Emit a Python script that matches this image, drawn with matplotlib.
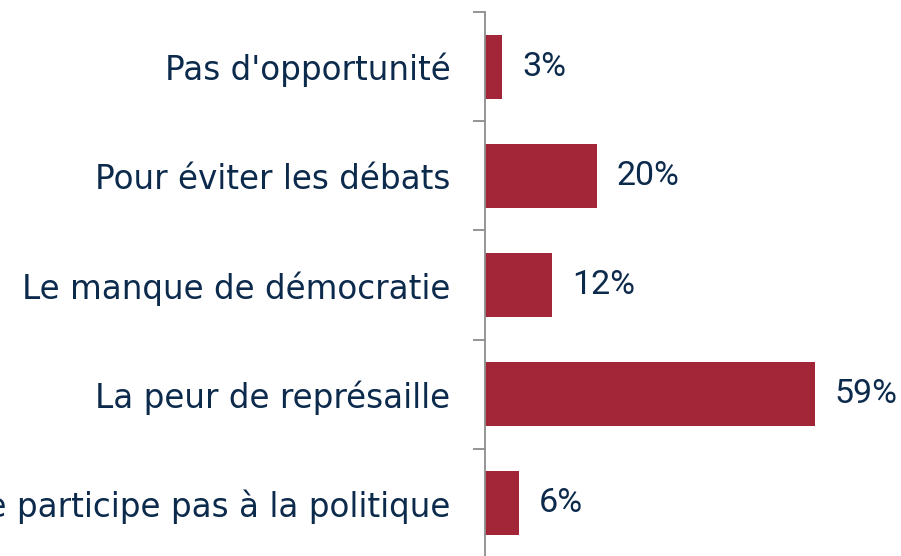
import matplotlib.pyplot as plt

# données
categories = ["Pas d'opportunité", "Pour éviter les débats", "Le manque de démocratie",
              "La peur de représaille", "Ne participe pas à la politique"]
valeurs = [3, 20, 12, 59, 6]
etiquettes = ["3%", "20%", "12%", "59%", "6%"]

rouge = "#A32638"
bleu = "#0c2a4c"
gris = "#8c8c8c"

plt.rcParams['font.family'] = ['DejaVu Sans']

fig = plt.figure(figsize=(9.01, 5.56), dpi=100)
ax = fig.add_axes([485 / 901, -2 / 556, 391 / 901, 546 / 556])

y = list(range(len(categories)))
ax.barh(y, valeurs, height=0.586, color=rouge)

# valeurs (police plus étroite pour que 59% tienne dans l'image)
for yi, v, lab in zip(y, valeurs, etiquettes):
    ax.annotate(lab, xy=(v, yi), xytext=(14.5, 0), textcoords="offset points",
                ha="left", va="center", fontsize=24.5, color=bleu,
                family=["Roboto", "DejaVu Sans"], annotation_clip=False)

ax.set_xlim(0, 70)
ax.set_ylim(len(categories) - 0.5, -0.5)

# étiquettes au centre, petits traits entre les catégories
ax.set_yticks(y)
ax.set_yticklabels(categories, fontsize=23.5, color=bleu)
ax.tick_params(axis="y", which="major", length=0, pad=25)
ax.set_yticks([i - 0.5 for i in range(len(categories) + 1)], minor=True)
ax.tick_params(axis="y", which="minor", length=8.5, width=1.3, color=gris)

ax.set_xticks([])
for s in ["top", "right", "bottom"]:
    ax.spines[s].set_visible(False)
ax.spines["left"].set_color(gris)
ax.spines["left"].set_linewidth(1.3)

plt.savefig("out.png", dpi=100)
